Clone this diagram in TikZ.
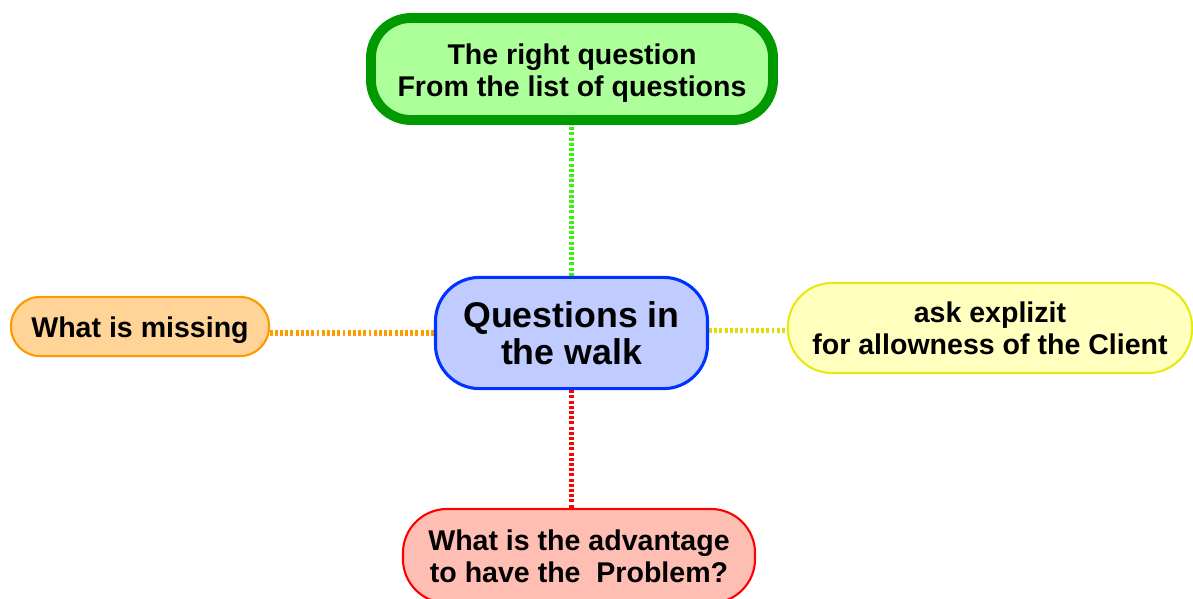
\documentclass[tikz,border=0pt]{standalone}
\usepackage{fontspec}
\setmainfont{Liberation Sans}
\usetikzlibrary{backgrounds}
\definecolor{topline}{RGB}{0,153,0}
\definecolor{topfill}{RGB}{172,255,153}
\definecolor{toplink}{RGB}{60,240,20}
\definecolor{rootline}{RGB}{0,51,255}
\definecolor{rootfill}{RGB}{192,204,255}
\definecolor{leftline}{RGB}{255,153,0}
\definecolor{leftfill}{RGB}{255,212,150}
\definecolor{rightline}{RGB}{232,232,20}
\definecolor{rightfill}{RGB}{255,255,190}
\definecolor{rightlink}{RGB}{222,222,0}
\definecolor{downline}{RGB}{255,0,0}
\definecolor{downfill}{RGB}{255,190,180}
\tikzset{
  branch/.style={draw, rounded corners=1.1cm, align=center, inner sep=0pt,
    font=\fontsize{20.3}{22.8}\selectfont\bfseries},
  link/.style={line width=3.6pt, dash pattern=on 2.1pt off 1.6pt}
}
\begin{document}
\begin{tikzpicture}[x=0.025cm,y=-0.025cm]
			\useasboundingbox (0,0) rectangle (1193,599);
			\node[branch, line width=7pt, draw=topline, fill=topfill, minimum width=10.05cm, minimum height=2.55cm, rounded corners=1cm] (top) at (572,69) {\rule{0pt}{20.5pt}The right question\\From the list of questions};
			\node[branch, line width=2.2pt, draw=rootline, fill=rootfill, minimum width=6.8cm, minimum height=2.78cm, font=\fontsize{25.4}{26.6}\selectfont\bfseries] (root) at (571.5,333) {Questions in\\the walk};
			\node[branch, line width=1.5pt, draw=leftline, fill=leftfill, minimum width=6.45cm, minimum height=1.48cm, rounded corners=0.73cm] (left) at (140,326.5) {\rule{0pt}{19.5pt}What is missing};
			\node[branch, line width=1.5pt, draw=rightline, fill=rightfill, minimum width=10.1cm, minimum height=2.25cm] (right) at (990,328) {ask explizit\\ for allowness of the Client};
			\node[branch, line width=1.5pt, draw=downline, fill=downfill, minimum width=8.8cm, minimum height=2.35cm] (down) at (579,556) {What is the advantage\\to have the\ \ Problem?};
			\begin{scope}[on background layer]
			\draw[link, toplink] (root.north) -- (root.north |- top.south);
			\draw[link, downline] (root.south) -- (root.south |- down.north);
			\draw[link, leftline] (root.west) -- (root.west -| left.east);
			\draw[link, rightlink] ([yshift=2pt]root.east) -- ([yshift=2pt]root.east -| right.west);
			\end{scope}
		\end{tikzpicture}
\end{document}
